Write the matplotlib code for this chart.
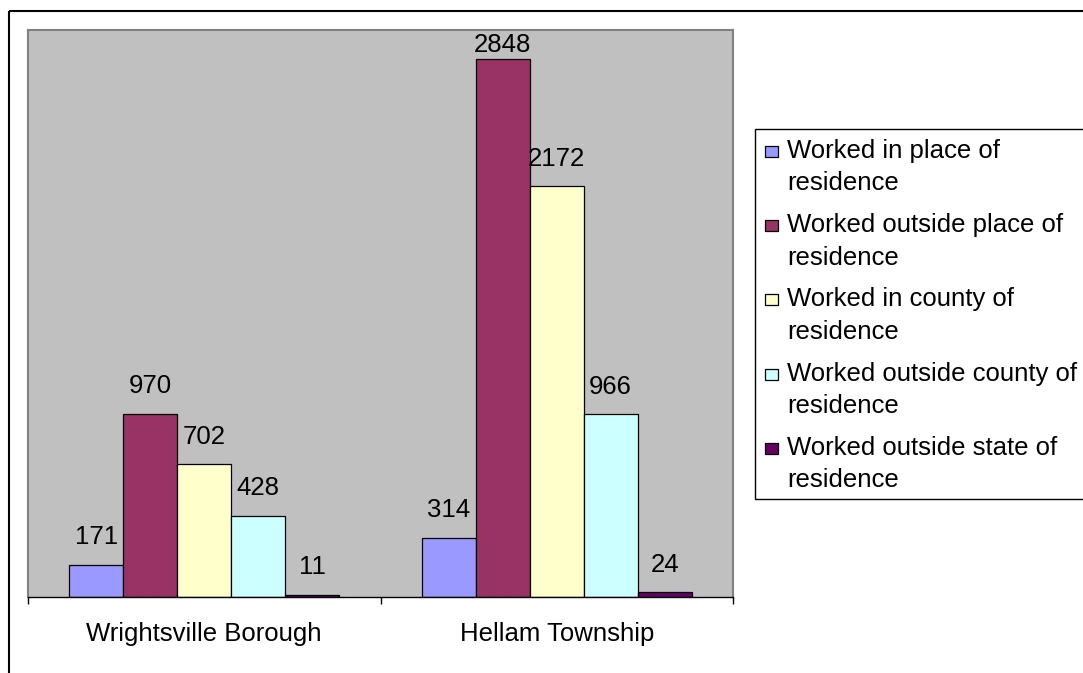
import matplotlib
matplotlib.use("Agg")
import matplotlib.pyplot as plt
from matplotlib.patches import Rectangle
from matplotlib.transforms import Affine2D

plt.rcParams["font.family"] = ["Liberation Sans", "DejaVu Sans"]

# Commuting: where residents worked
places = ["Wrightsville Borough", "Hellam Township"]
series_names = [
    "Worked in place of\nresidence",
    "Worked outside place of\nresidence",
    "Worked in county of\nresidence",
    "Worked outside county of\nresidence",
    "Worked outside state of\nresidence",
]
in_place = [171, 314]
outside_place = [970, 2848]
in_county = [702, 2172]
outside_county = [428, 966]
outside_state = [11, 24]
colors = ["#9999FF", "#993366", "#FFFFCC", "#CCFFFF", "#660066"]

W, H = 1083, 673
FS = 18.5
fig = plt.figure(figsize=(W / 100, H / 100), dpi=100)
# pixel coordinates measured from the top-left corner
px = Affine2D().scale(1 / W, -1 / H).translate(0, 1) + fig.transFigure

# chart border
fig.add_artist(Rectangle((8.5, 10.5), 1200, 800, transform=px, fill=False,
                         edgecolor="black", linewidth=1.5))

ax = fig.add_axes([28 / W, 1 - 597 / H, 705 / W, 567 / H])
ax.set_facecolor("#C0C0C0")

values = [in_place, outside_place, in_county, outside_county, outside_state]
bar_w = 0.153
ymax = 3000
for i, (vals, c) in enumerate(zip(values, colors)):
    xs = [k + (i - 2) * bar_w for k in range(len(places))]
    ax.bar(xs, vals, width=bar_w, color=c, edgecolor="black", linewidth=0.9)
    for x, v in zip(xs, vals):
        # keep labels inside the plot area
        y = min(v + 110, ymax - 115)
        ax.text(x, y, str(v), ha="center", va="baseline", fontsize=FS)

ax.set_xlim(-0.5, 1.5)
ax.set_ylim(0, ymax)
ax.set_xticks(range(len(places)), places)
ax.set_xticks([-0.5, 0.5, 1.5], minor=True)
ax.tick_params(axis="x", which="major", length=0, pad=18, labelsize=FS)
ax.tick_params(axis="x", which="minor", length=5, width=1, color="black")
ax.set_yticks([])
for side in ["left", "top", "right"]:
    ax.spines[side].set_color("#808080")
    ax.spines[side].set_linewidth(1.5)
ax.spines["bottom"].set_color("black")
ax.spines["bottom"].set_linewidth(1)

# legend
fig.add_artist(Rectangle((754.5, 128.5), 400, 370, transform=px,
                         facecolor="white", edgecolor="black", linewidth=1))
for i, (name, c) in enumerate(zip(series_names, colors)):
    base = 158 + 74.2 * i
    fig.add_artist(Rectangle((765, base - 12), 13, 11, transform=px,
                             facecolor=c, edgecolor="black", linewidth=0.9))
    for j, line in enumerate(name.split("\n")):
        fig.text(787, base + 32.5 * j, line, transform=px, fontsize=FS,
                 va="baseline")

fig.savefig("out.png", dpi=100)
